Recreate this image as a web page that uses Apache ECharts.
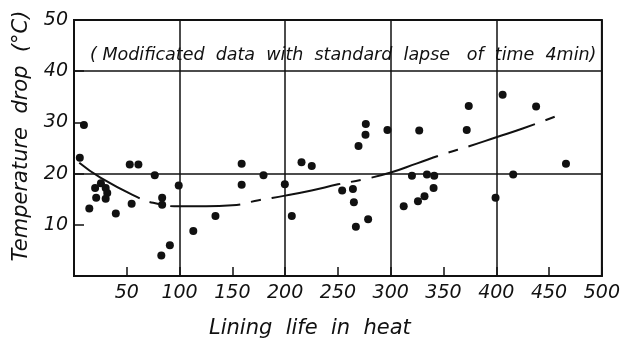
<!DOCTYPE html>
<html>
<head>
<meta charset="utf-8">
<script src="https://cdn.jsdelivr.net/npm/echarts@6/dist/echarts.min.js"></script>
<style>
  html, body { margin: 0; padding: 0; background: #fff; }
  #chart { width: 623px; height: 344px; }
</style>
</head>
<body>
<div id="chart"></div>
<script>
// measured points (lining life, temperature drop)
const dotX = [5.5, 9.4, 14.5, 20, 21, 25.5, 30, 31.5, 30, 39.6, 52.8, 61, 54.6, 76.5, 83.5, 83.5, 82.7, 90.8, 99.2, 113,
  134, 158.8, 158.8, 179.5, 199.7, 206.3, 215.5, 225.2, 254, 264.2, 265.1, 267, 278.6, 269.5, 276.1, 276.4,
  296.9, 312.3, 320.1, 325.8, 332, 334.3, 340.6, 341.2, 327, 372, 373.9, 399.3, 406, 416, 437.7, 466];
const dotY = [23.1, 29.5, 13.2, 17.2, 15.3, 18.1, 17.2, 16.2, 15.1, 12.2, 21.8, 21.8, 14.1, 19.7, 15.3, 13.9, 4.0, 6.0, 17.7, 8.8,
  11.7, 21.9, 17.8, 19.7, 17.9, 11.7, 22.2, 21.5, 16.7, 17.0, 14.4, 9.6, 11.1, 25.4, 27.6, 29.7,
  28.5, 13.6, 19.6, 14.6, 15.6, 19.8, 17.2, 19.6, 28.4, 28.5, 33.2, 15.3, 35.4, 19.8, 33.1, 21.9];

// trend curve
const curveX = [5, 25, 59, 75, 100, 125, 150, 175, 200, 225, 250, 275, 300, 325, 350, 375, 400, 425, 459];
const curveY = [22.1, 19.2, 15.5, 14.3, 13.6, 13.6, 13.8, 14.8, 15.7, 16.7, 17.9, 18.9, 20.2, 22.0, 23.8, 25.4, 27.1, 28.8, 31.4];

const noteText = '( Modificated  data  with  standard  lapse   of  time  4min)';

const ink = '#111';
const font = 'DejaVu Sans';

const dots = dotX.map((x, i) => [x, dotY[i]]);
const curve = curveX.map((x, i) => [x, curveY[i]]);

const chart = echarts.init(document.getElementById('chart'));

const option = {
  animation: false,
  grid: {
    left: 74, right: 21, top: 20, bottom: 64,
    show: true,
    borderColor: ink,
    borderWidth: 2
  },
  xAxis: [
    {
      type: 'value',
      min: 0, max: 500, interval: 50,
      name: 'Lining  life  in  heat',
      nameLocation: 'middle',
      nameGap: 42,
      nameTextStyle: { fontFamily: font, fontStyle: 'italic', fontSize: 21, color: ink, padding: [0, 56, 0, 0] },
      axisLine: { lineStyle: { color: ink, width: 2 } },
      axisTick: { inside: true, length: 9, lineStyle: { color: ink, width: 1.5 } },
      axisLabel: {
        fontFamily: font, fontStyle: 'italic', fontSize: 19, color: ink, margin: 8,
        formatter: v => v === 0 ? '' : String(v)
      },
      splitLine: { show: false }
    },
    {
      type: 'value',
      min: 0, max: 500, interval: 100,
      position: 'bottom',
      axisLine: { show: false },
      axisTick: { show: false },
      axisLabel: { show: false },
      splitLine: { show: true, lineStyle: { color: ink, width: 1.5 } }
    }
  ],
  yAxis: [
    {
      type: 'value',
      min: 0, max: 50, interval: 10,
      name: 'Temperature  drop  (°C)',
      nameLocation: 'middle',
      nameGap: 42,
      nameTextStyle: { fontFamily: font, fontStyle: 'italic', fontSize: 21, color: ink, padding: [0, 0, 0, 24] },
      axisLine: { lineStyle: { color: ink, width: 2 } },
      axisTick: { inside: true, length: 10, lineStyle: { color: ink, width: 1.5 } },
      axisLabel: {
        fontFamily: font, fontStyle: 'italic', fontSize: 19, color: ink, margin: 6,
        formatter: v => v === 0 ? '' : String(v)
      },
      splitLine: { show: false }
    },
    {
      type: 'value',
      min: 0, max: 50, interval: 20,
      position: 'left',
      axisLine: { show: false },
      axisTick: { show: false },
      axisLabel: { show: false },
      splitLine: { show: true, lineStyle: { color: ink, width: 1.5 } }
    }
  ],
  graphic: [
    {
      type: 'text',
      left: 90,
      top: 46,
      style: {
        text: noteText,
        fontFamily: font,
        fontStyle: 'italic',
        fontSize: 17.5,
        fill: ink
      }
    }
  ],
  series: [
    {
      type: 'line',
      data: curve,
      smooth: true,
      showSymbol: false,
      lineStyle: { color: ink, width: 2, type: [70, 11, 10, 11] },
      z: 3
    },
    {
      type: 'scatter',
      data: dots,
      symbolSize: 8,
      itemStyle: { color: ink, opacity: 1 },
      z: 4
    }
  ]
};

chart.setOption(option);
</script>
</body>
</html>
